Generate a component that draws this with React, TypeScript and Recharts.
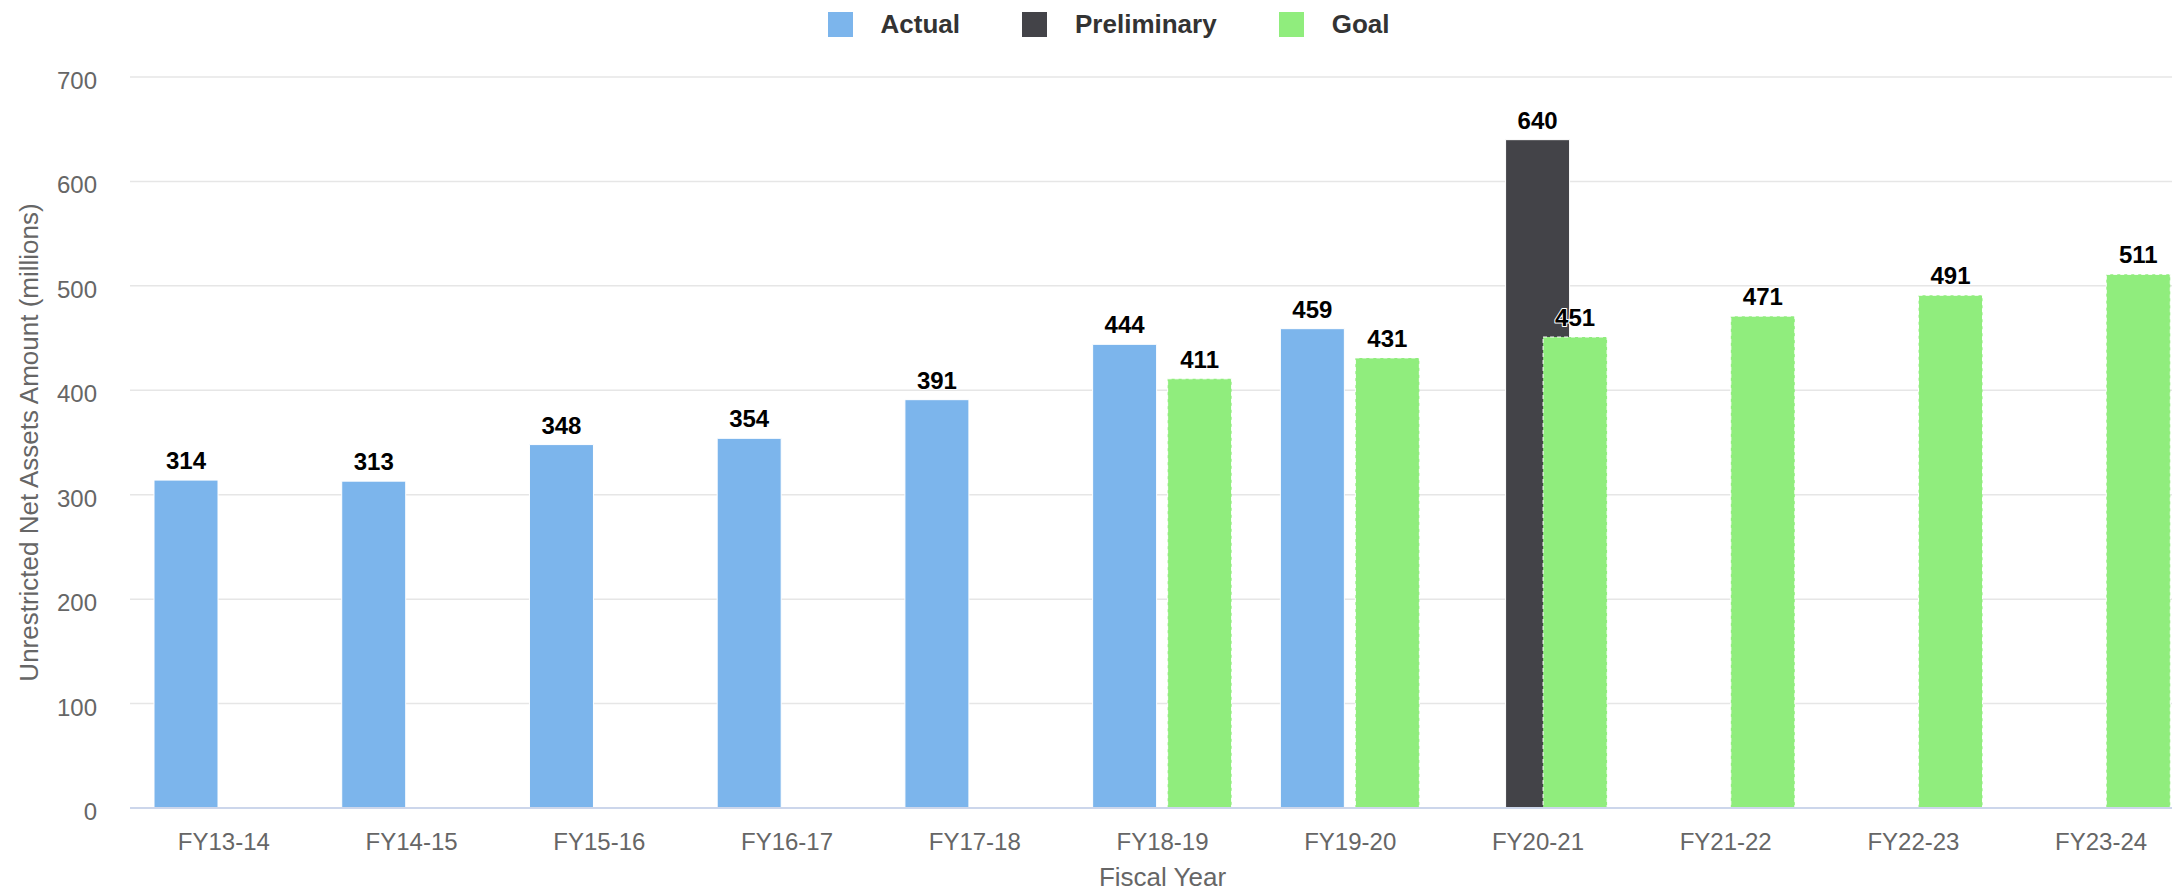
import React from 'react';
import { BarChart, Bar, XAxis, YAxis, CartesianGrid, Legend, LabelList, Label } from 'recharts';

const categories = ['FY13-14', 'FY14-15', 'FY15-16', 'FY16-17', 'FY17-18', 'FY18-19', 'FY19-20', 'FY20-21', 'FY21-22', 'FY22-23', 'FY23-24'];
const actualValues = [314, 313, 348, 354, 391, 444, 459, null, null, null, null];
const preliminaryValues = [null, null, null, null, null, null, null, 640, null, null, null];
const goalValues = [null, null, null, null, null, 411, 431, 451, 471, 491, 511];
const yTicks = [0, 100, 200, 300, 400, 500, 600, 700];

const seriesNames = ['Actual', 'Preliminary', 'Goal'];
const seriesColors = ['#7cb5ec', '#434348', '#90ed7d'];

const data = categories.map((c, i) => ({
  name: c,
  actual: actualValues[i],
  preliminary: preliminaryValues[i],
  goal: goalValues[i],
}));

const FONT = '"Liberation Sans", Arial, sans-serif';

const renderValueLabel = (props: any) => {
  const { x, y, width, value } = props;
  if (value === null || value === undefined) return null;
  return (
    <text
      x={Number(x) + Number(width) / 2}
      y={Number(y) - 11}
      textAnchor="middle"
      fontFamily={FONT}
      fontSize={24}
      fontWeight="bold"
      fill="#000"
      stroke="#fff"
      strokeWidth={2}
      strokeLinejoin="round"
      paintOrder="stroke"
    >
      {value}
    </text>
  );
};

const XTick = (props: any) => {
  const { x, y, payload } = props;
  return (
    <text x={x} y={y + 42} textAnchor="middle" fontFamily={FONT} fontSize={24} fill="#666666">
      {payload.value}
    </text>
  );
};

const YTick = (props: any) => {
  const { x, y, payload } = props;
  return (
    <text x={x - 33} y={y + 12} textAnchor="end" fontFamily={FONT} fontSize={24} fill="#666666">
      {payload.value}
    </text>
  );
};

const LegendContent = () => (
  <div
    style={{
      height: 50,
      display: 'flex',
      justifyContent: 'center',
      alignItems: 'flex-start',
      fontFamily: FONT,
      paddingLeft: 22,
      boxSizing: 'border-box',
    }}
  >
    {seriesNames.map((n, i) => (
      <div key={n} style={{ display: 'flex', alignItems: 'center', marginLeft: i === 0 ? 0 : 62, marginTop: 12 }}>
        <div style={{ width: 25, height: 25, background: seriesColors[i] }} />
        <span style={{ marginLeft: 28, fontSize: 26, fontWeight: 'bold', color: '#333333', lineHeight: '25px' }}>{n}</span>
      </div>
    ))}
  </div>
);

export default function App() {
  return (
    <div style={{ position: 'absolute', left: 0, top: 0, width: 2172, height: 893, overflow: 'hidden', background: '#fff' }}>
      <BarChart
        width={2212}
        height={893}
        data={data}
        margin={{ top: 27, right: 17, bottom: 0, left: 0 }}
        barSize={64}
        barGap={-26.5}
      >
        <Legend verticalAlign="top" align="center" content={LegendContent} wrapperStyle={{ top: 0, left: 0 }} height={50} />
        <CartesianGrid horizontal vertical={false} stroke="#e6e6e6" strokeWidth={1.5} />
        <XAxis
          dataKey="name"
          height={85}
          tickLine={false}
          tickSize={0}
          tickMargin={0}
          axisLine={{ stroke: '#ccd6eb', strokeWidth: 2 }}
          tick={<XTick />}
          interval={0}
        >
          <Label
            content={(p: any) => {
              const vb = p.viewBox;
              return (
                <text x={vb.x + vb.width / 2} y={vb.y + 78} textAnchor="middle" fontFamily={FONT} fontSize={26} fill="#666666">
                  Fiscal Year
                </text>
              );
            }}
          />
        </XAxis>
        <YAxis
          width={130}
          domain={[0, 700]}
          ticks={yTicks}
          tickLine={false}
          tickSize={0}
          tickMargin={0}
          axisLine={false}
          tick={<YTick />}
        >
          <Label
            content={(p: any) => {
              const vb = p.viewBox;
              const cx = vb.x + 29;
              const cy = vb.y + vb.height / 2;
              return (
                <text
                  x={cx}
                  y={cy}
                  transform={`rotate(-90, ${cx}, ${cy})`}
                  textAnchor="middle"
                  dominantBaseline="central"
                  fontFamily={FONT}
                  fontSize={26}
                  fill="#666666"
                >
                  Unrestricted Net Assets Amount (millions)
                </text>
              );
            }}
          />
        </YAxis>
        <Bar dataKey="actual" name={seriesNames[0]} fill={seriesColors[0]} stroke="#ffffff" strokeWidth={1} isAnimationActive={false}>
          <LabelList dataKey="actual" content={renderValueLabel} />
        </Bar>
        <Bar dataKey="preliminary" name={seriesNames[1]} fill={seriesColors[1]} stroke="#ffffff" strokeWidth={1} isAnimationActive={false}>
          <LabelList dataKey="preliminary" content={renderValueLabel} />
        </Bar>
        <Bar dataKey="goal" name={seriesNames[2]} fill={seriesColors[2]} stroke="#ffffff" strokeWidth={1} strokeDasharray="4 3" isAnimationActive={false}>
          <LabelList dataKey="goal" content={renderValueLabel} />
        </Bar>
      </BarChart>
    </div>
  );
}
